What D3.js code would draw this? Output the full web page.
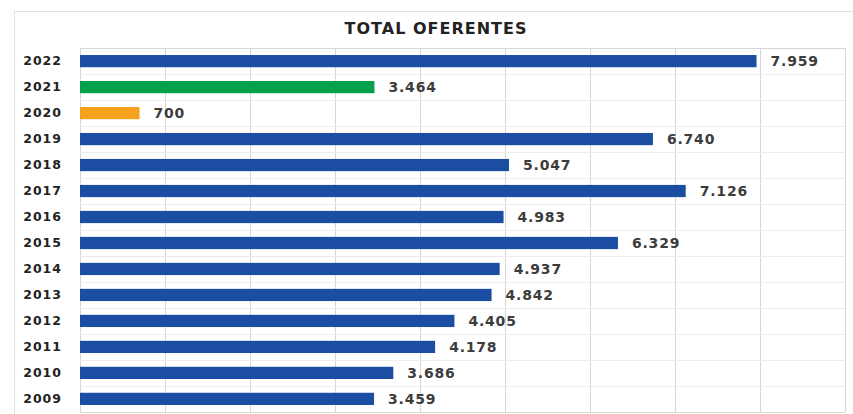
<!DOCTYPE html>
<html>
<head>
<meta charset="utf-8">
<script src="https://cdn.jsdelivr.net/npm/d3@7"></script>
<style>
  body { margin: 0; background: #fff; }
  svg { display: block; font-family: "DejaVu Sans", Verdana, sans-serif; }
</style>
</head>
<body>
<svg id="chart" width="853" height="414"></svg>
<script>
// data
const years = ["2022", "2021", "2020", "2019", "2018", "2017", "2016", "2015", "2014", "2013", "2012", "2011", "2010", "2009"];
const oferentes = [7959, 3464, 700, 6740, 5047, 7126, 4983, 6329, 4937, 4842, 4405, 4178, 3686, 3459];
const barColors = ["#1b4ea2", "#05a04b", "#f6a21d", "#1b4ea2", "#1b4ea2", "#1b4ea2", "#1b4ea2", "#1b4ea2", "#1b4ea2", "#1b4ea2", "#1b4ea2", "#1b4ea2", "#1b4ea2", "#1b4ea2"];
const xTicks = [0, 1000, 2000, 3000, 4000, 5000, 6000, 7000, 8000, 9000];
const title = "TOTAL OFERENTES";

const svg = d3.select("#chart"),
      margin = {top: 48, right: 8, bottom: 2, left: 80},
      width = +svg.attr("width") - margin.left - margin.right,
      height = +svg.attr("height") - margin.top - margin.bottom;

// outer frame of the chart
svg.append("rect")
    .attr("x", 14.5).attr("y", 11.5)
    .attr("width", 853).attr("height", 420)
    .attr("fill", "none")
    .attr("stroke", "#e2e2e2");

svg.append("text")
    .attr("x", 436).attr("y", 34)
    .attr("text-anchor", "middle")
    .attr("font-size", 16)
    .attr("font-weight", "bold")
    .attr("letter-spacing", 1)
    .attr("fill", "#222")
    .text(title);

const x = d3.scaleLinear().domain([0, 9000]).range([0, width]);
const y = d3.scaleBand().domain(years).range([0, height]).paddingInner(0.53).paddingOuter(0.27);
const rowH = height / years.length;

const g = svg.append("g").attr("transform", "translate(" + margin.left + "," + margin.top + ")");

// vertical grid
g.append("g")
    .selectAll("line")
    .data(xTicks)
    .enter().append("line")
    .attr("x1", d => Math.round(x(d)) + 0.5)
    .attr("x2", d => Math.round(x(d)) + 0.5)
    .attr("y1", 0).attr("y2", height)
    .attr("stroke", "#d6d6d6");

// horizontal row lines
g.append("g")
    .selectAll("line")
    .data(d3.range(years.length + 1))
    .enter().append("line")
    .attr("x1", 0).attr("x2", x(9000))
    .attr("y1", i => Math.round(i * rowH) + 0.5)
    .attr("y2", i => Math.round(i * rowH) + 0.5)
    .attr("stroke", i => (i === 0 || i === years.length) ? "#d6d6d6" : "#ececec");

// bars
g.append("g")
    .selectAll("rect")
    .data(years)
    .enter().append("rect")
    .attr("x", 0)
    .attr("y", (d, i) => y(d))
    .attr("width", (d, i) => x(oferentes[i]))
    .attr("height", y.bandwidth())
    .attr("fill", (d, i) => barColors[i]);

// value labels (dot as thousands separator)
const fmt = d3.formatLocale({decimal: ",", thousands: ".", grouping: [3], currency: ["", ""]}).format(",d");
g.append("g")
    .selectAll("text")
    .data(years)
    .enter().append("text")
    .attr("x", (d, i) => x(oferentes[i]) + 14)
    .attr("y", d => y(d) + y.bandwidth() / 2)
    .attr("dy", "0.36em")
    .attr("font-size", 14)
    .attr("font-weight", "bold")
    .attr("letter-spacing", 0.8)
    .attr("fill", "#3c3c3c")
    .text((d, i) => fmt(oferentes[i]));

// year labels
const yAxis = g.append("g")
    .call(d3.axisLeft(y).tickSize(0).tickPadding(18));
yAxis.select(".domain").remove();
yAxis.selectAll("text")
    .attr("font-size", 12.5)
    .attr("font-weight", "bold")
    .attr("letter-spacing", 1)
    .attr("font-family", "DejaVu Sans, Verdana, sans-serif")
    .attr("fill", "#222");
</script>
</body>
</html>
